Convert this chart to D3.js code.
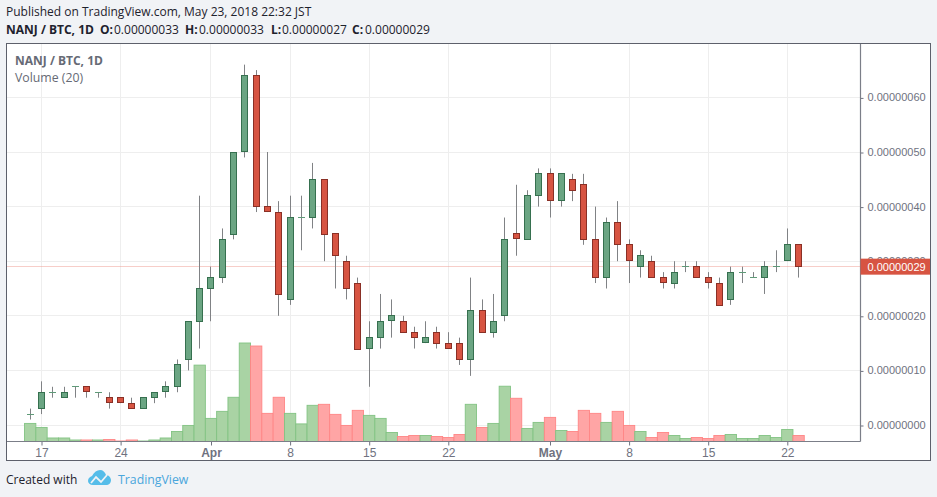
<!DOCTYPE html>
<html>
<head>
<meta charset="utf-8">
<script src="https://cdn.jsdelivr.net/npm/d3@7"></script>
<style>
  html, body { margin: 0; padding: 0; background: #f1f3f6; }
  svg { display: block; }
  .head { font-family: "Open Sans", sans-serif; font-size: 12px; fill: #1e222d; }
  .axis text { font-family: "Liberation Sans", Arial, sans-serif; fill: #6f7280; }
</style>
</head>
<body>
<div class="chart"></div>
<script>
// prices in satoshi (1e-8 BTC), one entry per day from 16 Mar to 23 May 2018
const days = [
  "2018-03-16","2018-03-17","2018-03-18","2018-03-19","2018-03-20","2018-03-21","2018-03-22","2018-03-23",
  "2018-03-24","2018-03-25","2018-03-26","2018-03-27","2018-03-28","2018-03-29","2018-03-30","2018-03-31",
  "2018-04-01","2018-04-02","2018-04-03","2018-04-04","2018-04-05","2018-04-06","2018-04-07","2018-04-08",
  "2018-04-09","2018-04-10","2018-04-11","2018-04-12","2018-04-13","2018-04-14","2018-04-15","2018-04-16",
  "2018-04-17","2018-04-18","2018-04-19","2018-04-20","2018-04-21","2018-04-22","2018-04-23","2018-04-24",
  "2018-04-25","2018-04-26","2018-04-27","2018-04-28","2018-04-29","2018-04-30","2018-05-01","2018-05-02",
  "2018-05-03","2018-05-04","2018-05-05","2018-05-06","2018-05-07","2018-05-08","2018-05-09","2018-05-10",
  "2018-05-11","2018-05-12","2018-05-13","2018-05-14","2018-05-15","2018-05-16","2018-05-17","2018-05-18",
  "2018-05-19","2018-05-20","2018-05-21","2018-05-22","2018-05-23"
];
const opens = [2,3,6,5,7,7,6,5, 5,4,3,5,6,7,12,19, 25,27,35,50,64,40,39,23,
  38,38,45,35,30,26,14,16, 19,19,17,15,17,15,15,12, 21,17,20,35,34,42,46,41,
  45,44,34,27,37,33,29,30, 27,26,29,29,27,26,23,28, 27,27,29,30,33];
const highs = [3,8,7,7,7,7,6,6, 5,5,5,6,8,12,19,42, 29,36,50,66,65,50,41,42,
  42,48,45,35,31,27,19,24, 23,20,18,19,18,17,16,27, 23,24,38,44,43,47,47,46,
  46,46,40,38,41,34,32,31, 28,30,30,30,28,27,29,29, 28,30,32,36,33];
const lows = [1,2,5,5,5,5,5,3, 4,3,3,4,5,6,10,14, 19,26,34,49,39,39,20,22,
  32,36,30,25,23,14,7,14, 16,17,14,15,14,14,11,9, 17,16,19,31,34,40,38,40,
  41,33,26,25,30,26,27,27, 25,25,28,27,25,22,22,26, 27,24,28,30,27];
const closes = [2,6,6,6,7,6,6,4, 4,3,5,6,7,11,19,25, 27,34,50,64,40,39,24,38,
  38,45,35,31,25,14,16,19, 20,17,16,16,15,14,12,21, 17,19,34,34,42,46,41,46,
  43,34,27,37,33,30,31,27, 26,28,29,27,26,22,28,28, 27,29,29,33,29];
// volume read as relative height, tallest bar about 98
const volumes = [18,14,3.5,3.5,1.5,1.5,1.5,2, 0.5,1.5,0.5,1.5,3.5,10,16,76,
  23,30,44,98,95,28,44,28, 17.5,36,37,27,16,31,26,23,
  9,5,6,6,5,4,7,37, 14,18,55,43,13,19,24,11,
  10,31,28,19,30,16,10,4, 9,6,3,4,3,6,7,3, 3,6,4,12,6];
// colour of each volume bar, 1 = up day, 0 = down day
const volumeUp = [1,1,1,1,1,0,1,0, 0,0,1,1,1,1,1,1,
  1,1,1,1,0,0,0,1, 1,1,0,0,0,0,1,1,
  1,0,0,1,0,0,0,1, 0,1,1,0,1,1,0,1,
  0,0,0,1,0,0,1,0, 0,1,1,0,0,0,1,1, 1,1,1,1,0];

const tickDates = ["2018-03-17","2018-03-24","2018-04-01","2018-04-08","2018-04-15","2018-04-22",
  "2018-05-01","2018-05-08","2018-05-15","2018-05-22"];
const tickLabels = ["17","24","Apr","8","15","22","May","8","15","22"];
const priceTicks = [0,10,20,30,40,50,60];
const lastPrice = 29;
const ohlcLabels = ["O:","H:","L:","C:"];
const ohlcValues = ["0.00000033","0.00000033","0.00000027","0.00000029"];

const parseDay = d3.utcParse("%Y-%m-%d");
const data = days.map((d, i) => ({
  date: parseDay(d), open: opens[i], high: highs[i], low: lows[i], close: closes[i],
  volume: volumes[i], up: volumeUp[i] === 1
}));

const width = 937, height = 497;
const frame = {left: 6.5, top: 43.5, right: 930.5, bottom: 460.5};
const plot = {right: 860.5, bottom: 441.5};

const x = d3.scaleUtc()
  .domain([parseDay("2018-03-17"), parseDay("2018-05-22")])
  .range([41.5, 787.3]);
const y = d3.scaleLinear().domain([0, 60]).range([425, 97.4]);
const yVol = d3.scaleLinear().domain([0, 98]).range([plot.bottom, 343]);
const fmtPrice = d => (d * 1e-8).toFixed(8);
const snap = v => Math.round(v - 0.5) + 0.5;

const svg = d3.select(".chart").append("svg").attr("width", width).attr("height", height);

svg.append("rect")
  .attr("x", frame.left).attr("y", frame.top)
  .attr("width", frame.right - frame.left).attr("height", frame.bottom - frame.top)
  .attr("fill", "#fff");

// grid
svg.append("g").selectAll("line").data(priceTicks).enter().append("line")
  .attr("x1", frame.left).attr("x2", plot.right)
  .attr("y1", d => snap(y(d))).attr("y2", d => snap(y(d)))
  .attr("stroke", "#eeeeee");
svg.append("g").selectAll("line").data(tickDates).enter().append("line")
  .attr("x1", d => snap(x(parseDay(d)))).attr("x2", d => snap(x(parseDay(d))))
  .attr("y1", frame.top).attr("y2", plot.bottom)
  .attr("stroke", "#eeeeee");

// volume
const barW = 11.3;
svg.append("g").selectAll("rect").data(data).enter().append("rect")
  .attr("x", d => x(d.date) - barW / 2)
  .attr("y", d => yVol(d.volume))
  .attr("width", barW)
  .attr("height", d => plot.bottom - yVol(d.volume))
  .attr("fill", d => d.up ? "#a9d3a4" : "#ffa5a5")
  .attr("stroke", d => d.up ? "#82c383" : "#ff8585")
  .attr("stroke-width", 0.9);

// last price line
svg.append("line")
  .attr("x1", frame.left).attr("x2", plot.right)
  .attr("y1", snap(y(lastPrice))).attr("y2", snap(y(lastPrice)))
  .attr("stroke", "#ef9c92")
  .attr("stroke-dasharray", "1 1");

// candles
const candles = svg.append("g");
candles.selectAll("line").data(data).enter().append("line")
  .attr("x1", d => snap(x(d.date))).attr("x2", d => snap(x(d.date)))
  .attr("y1", d => y(d.high)).attr("y2", d => y(d.low))
  .attr("stroke", "#808285");
candles.selectAll("rect").data(data.filter(d => d.open !== d.close)).enter().append("rect")
  .attr("x", d => snap(x(d.date)) - 3)
  .attr("y", d => snap(y(Math.max(d.open, d.close))))
  .attr("width", 6)
  .attr("height", d => Math.round(Math.abs(y(d.open) - y(d.close))))
  .attr("fill", d => d.close > d.open ? "#6ba583" : "#d75442")
  .attr("stroke", d => d.close > d.open ? "#36704f" : "#8a3026");
candles.selectAll(".doji").data(data.filter(d => d.open === d.close)).enter().append("line")
  .attr("class", "doji")
  .attr("x1", d => snap(x(d.date)) - 3.5).attr("x2", d => snap(x(d.date)) + 3.5)
  .attr("y1", d => snap(y(d.close))).attr("y2", d => snap(y(d.close)))
  .attr("stroke", "#5f9a78");

// axes
const xAxis = d3.axisBottom(x)
  .tickValues(tickDates.map(parseDay))
  .tickFormat((d, i) => tickLabels[i])
  .tickSizeOuter(0)
  .tickSize(4);
const xG = svg.append("g").attr("class", "axis")
  .attr("transform", `translate(0, ${plot.bottom})`)
  .call(xAxis);
xG.select(".domain").remove();
xG.selectAll("line").attr("stroke", "#6f7280");
xG.selectAll("text")
  .attr("y", 7)
  .attr("font-size", 12)
  .attr("font-weight", (d, i) => isNaN(tickLabels[i]) ? "bold" : "normal");

const yAxis = d3.axisRight(y)
  .tickValues(priceTicks)
  .tickFormat(fmtPrice)
  .tickSizeOuter(0)
  .tickSize(3);
const yG = svg.append("g").attr("class", "axis")
  .attr("transform", `translate(${plot.right}, 0)`)
  .call(yAxis);
yG.select(".domain").remove();
yG.selectAll("line").attr("stroke", "#6f7280").attr("transform", "translate(0,0.5)");
yG.selectAll("text").attr("x", 7).attr("font-size", 11);

svg.append("line").attr("x1", frame.left).attr("x2", plot.right)
  .attr("y1", plot.bottom).attr("y2", plot.bottom).attr("stroke", "#7b7e88").attr("stroke-width", 1.2);
svg.append("line").attr("x1", plot.right).attr("x2", plot.right)
  .attr("y1", frame.top).attr("y2", plot.bottom).attr("stroke", "#7b7e88").attr("stroke-width", 1.2);
svg.append("rect")
  .attr("x", frame.left).attr("y", frame.top)
  .attr("width", frame.right - frame.left).attr("height", frame.bottom - frame.top)
  .attr("fill", "none").attr("stroke", "#5d606b");

// last price label
svg.append("rect")
  .attr("x", plot.right).attr("y", y(lastPrice) - 8)
  .attr("width", frame.right - plot.right - 0.5).attr("height", 16)
  .attr("fill", "#d75442");
svg.append("text")
  .attr("x", plot.right + 7).attr("y", y(lastPrice) + 4)
  .attr("font-family", "Liberation Sans, Arial, sans-serif")
  .attr("font-size", 11)
  .attr("fill", "#fff")
  .text(fmtPrice(lastPrice));

// header
svg.append("text").attr("class", "head").attr("x", 6).attr("y", 16)
  .text("Published on TradingView.com, May 23, 2018 22:32 JST");
svg.append("text").attr("class", "head").attr("x", 6).attr("y", 34)
  .attr("font-weight", "bold").text("NANJ / BTC, 1D");
const labelX = [100, 185, 271, 352];
const valueX = [114, 199, 282, 365];
ohlcLabels.forEach((label, i) => {
  svg.append("text").attr("class", "head").attr("x", labelX[i]).attr("y", 34)
    .attr("font-weight", "bold").text(label);
  svg.append("text").attr("class", "head").attr("x", valueX[i]).attr("y", 34)
    .text(ohlcValues[i]);
});

// legend inside the plot
svg.append("text").attr("x", 15).attr("y", 65)
  .attr("font-family", "Open Sans, sans-serif").attr("font-size", 12).attr("font-weight", "bold")
  .attr("fill", "#666a75").text("NANJ / BTC, 1D");
svg.append("text").attr("x", 15).attr("y", 82)
  .attr("font-family", "Open Sans, sans-serif").attr("font-size", 12.3)
  .attr("fill", "#666a75").text("Volume (20)");

// footer
svg.append("text").attr("class", "head").attr("x", 6).attr("y", 484).text("Created with");
const logo = svg.append("g").attr("transform", "translate(88, 470)");
logo.append("path")
  .attr("fill", "#56bde9")
  .attr("d", "M0 11 C0 8 2 7 4 6 C6 2 9 0 12 0 C15 0 17 2 18 5 C21 5 23 8 23 10 C23 13 21 15 18 15 L5 15 C2 15 0 13 0 11 Z");
logo.append("path")
  .attr("fill", "none")
  .attr("stroke", "#f1f3f6")
  .attr("stroke-width", 1.8)
  .attr("d", "M3 13 L8 7 L13 12 L19 5");
svg.append("text").attr("x", 118).attr("y", 484)
  .attr("font-family", "Open Sans, sans-serif").attr("font-size", 12.3)
  .attr("fill", "#4aa6dc").text("TradingView");
</script>
</body>
</html>
